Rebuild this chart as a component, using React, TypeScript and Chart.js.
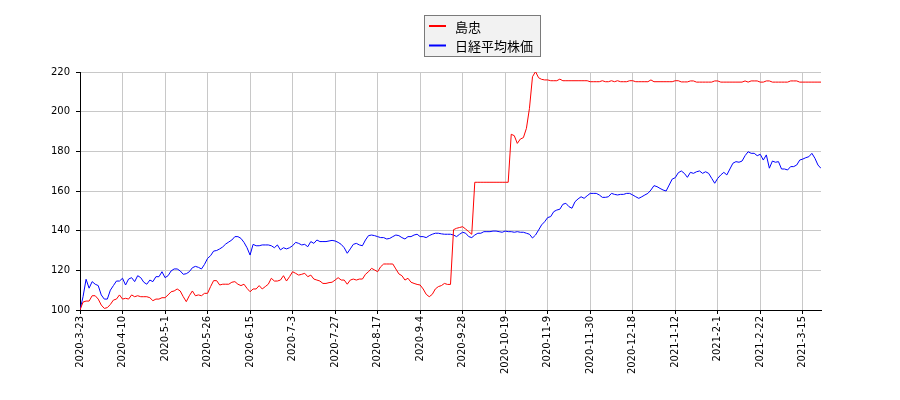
import React, { useEffect, useRef } from "react";
import { Chart, registerables } from "chart.js";

Chart.register(...registerables);

const tickLabels = [
  "2020-3-23", "2020-4-10", "2020-5-1", "2020-5-26", "2020-6-15", "2020-7-3",
  "2020-7-27", "2020-8-17", "2020-9-4", "2020-9-28", "2020-10-19", "2020-11-9",
  "2020-11-30", "2020-12-18", "2021-1-12", "2021-2-1", "2021-2-22", "2021-3-15",
];
const tickEvery = 14;

const seriesNames = ["島忠", "日経平均株価"];

const shimachu = [
  100, 104, 104.5, 104.5, 107.2, 107.2, 105.5, 102.5, 100.8, 101.2,
  102.8, 105, 105.5, 107.6, 105.5, 105.9, 105.5, 107.6, 106.7, 107.2,
  106.7, 106.7, 106.7, 106.2, 104.7, 105.5, 105.5, 106.2, 106.2, 107.6,
  109.2, 109.6, 110.6, 109.6, 106.7, 104.2, 107.2, 109.6, 107.2, 107.6,
  107.2, 108.4, 108.4, 111.8, 114.8, 114.8, 112.6, 113, 113, 113,
  114, 114.3, 113, 112.3, 113, 110.9, 109.2, 110.6, 110.6, 112.3,
  110.6, 111.8, 113, 116, 114.6, 114.6, 115.1, 117.3, 114.6, 116.8,
  119.3, 118.5, 117.6, 118, 118.5, 116.8, 117.6, 115.6, 115.1, 114.6,
  113.4, 113.4, 113.8, 114, 115.1, 116.3, 115.1, 115.1, 113, 115.1,
  115.6, 115.1, 115.6, 115.6, 118, 119.3, 121, 120.2, 119.3, 121.8,
  123.2, 123.2, 123.2, 123.2, 120.7, 118.2, 117.3, 115.1, 116, 114,
  113.4, 112.9, 112.6, 110.6, 107.9, 106.7, 107.9, 110.6, 111.8, 112.3,
  113.4, 112.9, 112.9, 140.5, 141.2, 141.6, 142, 140.8, 139.5, 138.2,
  164.4, 164.4, 164.4, 164.4, 164.4, 164.4, 164.4, 164.4, 164.4, 164.4,
  164.4, 164.4, 188.6, 187.9, 184, 186.2, 186.9, 191.6, 201.7, 217.6,
  220.2, 217.1, 216.3, 216, 216, 215.6, 215.6, 215.6, 216.4, 215.6,
  215.6, 215.6, 215.6, 215.6, 215.6, 215.6, 215.6, 215.6, 215.1, 215.1,
  215.1, 215.1, 215.6, 215.1, 215.1, 215.6, 215.1, 215.6, 215.1, 215.1,
  215.1, 215.6, 215.6, 215.1, 215.1, 215.1, 215.1, 215.1, 216, 215.1,
  215.1, 215.1, 215.1, 215.1, 215.1, 215.1, 215.6, 215.6, 215, 215,
  215, 215.5, 215.5, 214.9, 214.9, 214.9, 214.9, 214.9, 214.9, 215.5,
  215.5, 214.9, 214.9, 214.9, 214.9, 214.9, 214.9, 214.9, 214.9, 215.5,
  214.9, 215.5, 215.5, 215.5, 214.9, 214.9, 215.5, 215.5, 214.9, 214.9,
  214.9, 214.9, 214.9, 214.9, 215.5, 215.5, 215.5, 214.9, 214.9, 214.9,
  214.9, 214.9, 214.9, 214.9, 214.9,
];

const nikkei = [
  100, 106.7, 115.5, 111, 114.3, 113, 112.3, 107.6, 105.5, 105.5,
  110, 112.3, 114.6, 114.6, 116, 112.6, 115.6, 116.3, 114.3, 117.3,
  116.3, 114, 113, 115.1, 114.3, 116.8, 116.8, 119.3, 116.3, 117.3,
  119.7, 120.7, 120.7, 119.7, 118, 118.3, 119.3, 121.3, 122, 121.5,
  120.7, 123, 126, 127.4, 129.7, 130, 130.8, 131.8, 133.3, 134.3,
  135.3, 137, 137, 136.1, 134.1, 131.4, 127.7, 133.1, 132.4, 132.4,
  132.8, 132.8, 132.8, 132.4, 131.4, 132.8, 130.3, 131.4, 130.8, 131.4,
  132.4, 134.1, 133.6, 132.8, 133.1, 131.9, 134.5, 133.6, 135.3, 134.5,
  134.5, 134.5, 134.8, 135.1, 134.8, 134.1, 133.1, 131.4, 128.6, 130.8,
  133.1, 133.6, 132.8, 132.4, 135.3, 137.5, 137.8, 137.5, 137, 136.5,
  136.5, 135.8, 136.1, 137, 137.8, 137.5, 136.5, 135.8, 137, 137,
  137.8, 138.2, 137, 137, 136.5, 137.5, 138.2, 138.7, 138.7, 138.4,
  138.2, 138.2, 138.2, 137.8, 137, 138.2, 139.2, 138.7, 137, 136.5,
  137.8, 138.7, 138.7, 139.5, 139.5, 139.5, 139.8, 139.8, 139.5, 139.2,
  139.8, 139.5, 139.5, 139.2, 139.5, 139.2, 139.2, 138.7, 138.2, 136.3,
  137.8, 140.3, 142.9, 144.5, 146.6, 147.1, 149.6, 150.4, 150.8, 153.3,
  153.8, 152.1, 151.3, 154.6, 156, 157.1, 156.3, 157.6, 158.8, 158.8,
  158.8, 158, 156.8, 156.8, 157.1, 158.8, 158.3, 158, 158.3, 158.3,
  158.8, 158.8, 158, 157.1, 156.3, 157.1, 158, 158.8, 160.5, 162.7,
  162.2, 161.3, 160.5, 160, 163, 166, 166.7, 169.2, 170.1, 168.9,
  166.9, 169.4, 168.9, 169.7, 170.1, 168.9, 169.7, 168.9, 166.4, 163.9,
  166.4, 168.1, 169.4, 168.1, 171.1, 174, 174.8, 174.5, 175.1, 177.8,
  179.8, 179, 179, 177.8, 178.5, 175.6, 178.2, 171.5, 175.1, 174.5,
  174.8, 171.1, 171.1, 170.6, 172.3, 172.3, 173.1, 175.6, 176.1, 176.8,
  177.3, 179, 176.5, 173.1, 171.4,
];

const seriesColors = ["#ff0000", "#0000ff"];

const legendPlugin = {
  id: "boxLegend",
  afterDraw(chart: any) {
    const ctx = chart.ctx;
    ctx.save();
    const x = 424.5, y = 15.5, w = 116, h = 41;
    ctx.fillStyle = "#f2f2f2";
    ctx.strokeStyle = "#7a7a7a";
    ctx.lineWidth = 1;
    ctx.fillRect(x, y, w, h);
    ctx.strokeRect(x, y, w, h);
    ctx.font = '13px "Noto Sans CJK JP", sans-serif';
    ctx.textBaseline = "middle";
    ctx.textAlign = "left";
    seriesNames.forEach((name, i) => {
      const cy = 26 + i * 19.5;
      ctx.strokeStyle = seriesColors[i];
      ctx.lineWidth = 2;
      ctx.beginPath();
      ctx.moveTo(429, cy);
      ctx.lineTo(446, cy);
      ctx.stroke();
      ctx.fillStyle = "#000";
      ctx.fillText(name, 455, cy + 1);
    });
    ctx.restore();
  },
};

export default function App() {
  const ref = useRef<HTMLCanvasElement | null>(null);
  useEffect(() => {
    if (!ref.current) return;
    const toPts = (arr: number[]) => arr.map((v, i) => ({ x: i, y: v }));
    const chart = new Chart(ref.current, {
      type: "line",
      data: {
        datasets: [
          {
            label: seriesNames[0],
            data: toPts(shimachu),
            borderColor: seriesColors[0],
            borderWidth: 1,
            pointRadius: 0,
            tension: 0,
          },
          {
            label: seriesNames[1],
            data: toPts(nikkei),
            borderColor: seriesColors[1],
            borderWidth: 1,
            pointRadius: 0,
            tension: 0,
          },
        ],
      },
      options: {
        animation: false,
        responsive: false,
        layout: { padding: { top: 72, right: 79, left: 0, bottom: 0 } },
        plugins: { legend: { display: false }, tooltip: { enabled: false } },
        scales: {
          x: {
            type: "linear",
            min: 0,
            max: shimachu.length - 1,
            afterFit: (s: any) => { s.height = 90; },
            border: { color: "#000", width: 1 },
            grid: { color: "#c8c8c8", tickColor: "#000", tickLength: 4, lineWidth: 1 },
            ticks: {
              stepSize: tickEvery,
              includeBounds: false,
              autoSkip: false,
              maxRotation: 90,
              minRotation: 90,
              padding: 2,
              color: "#000",
              font: { family: "DejaVu Sans", size: 10 },
              callback: (v: any) => {
                const n = Number(v);
                if (n % tickEvery !== 0) return "";
                return tickLabels[n / tickEvery] ?? "";
              },
            },
          },
          y: {
            min: 100,
            max: 220,
            afterFit: (s: any) => { s.width = 80; },
            border: { color: "#000", width: 1 },
            grid: { color: "#c8c8c8", tickColor: "#000", tickLength: 4, lineWidth: 1 },
            ticks: {
              stepSize: 20,
              padding: 6,
              color: "#000",
              font: { family: "DejaVu Sans", size: 10 },
            },
          },
        },
      },
      plugins: [legendPlugin],
    });
    return () => chart.destroy();
  }, []);
  return (
    <div style={{ position: "absolute", left: 0, top: 0, width: 900, height: 400, background: "#fff" }}>
      <canvas ref={ref} width={900} height={400} style={{ width: 900, height: 400 }} />
    </div>
  );
}
